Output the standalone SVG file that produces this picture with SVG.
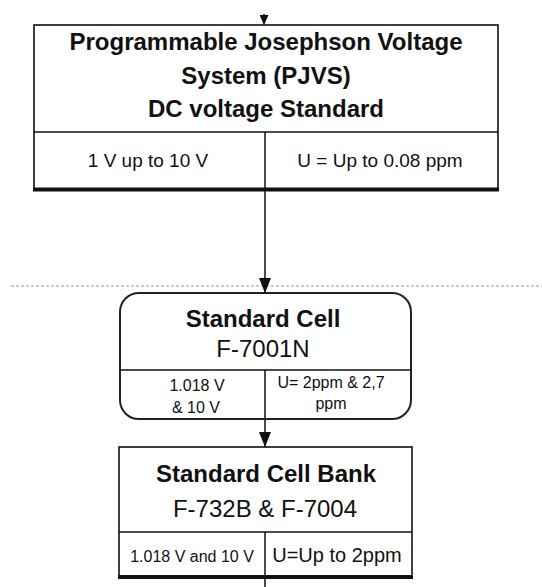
<svg xmlns="http://www.w3.org/2000/svg" width="542" height="587" viewBox="0 0 542 587">
<style>
  .box{fill:#fff;stroke:#111;stroke-width:1.6}
  .rbox{fill:#fff;stroke:#222;stroke-width:2}
  .div{stroke:#111;stroke-width:1.5;fill:none}
  .thick{stroke:#111;stroke-width:4}
  .conn{stroke:#111;stroke-width:1.5;fill:none}
  .sep{stroke:#9a9a9a;stroke-width:1.2;stroke-dasharray:3 2}
  text{font-family:"Liberation Sans",Arial,sans-serif;fill:#111;text-anchor:middle}
  .t{font-size:24px;font-weight:bold}
  .r{font-size:24px}
</style>
<defs>
  <marker id="arr" viewBox="0 0 15 12" refX="15" refY="6" markerWidth="15" markerHeight="12" markerUnits="userSpaceOnUse" orient="auto">
    <path d="M0,0 L15,6 L0,12 z" fill="#111"/>
  </marker>
  <marker id="arrS" viewBox="0 0 10 9" refX="10" refY="4.5" markerWidth="10" markerHeight="9" markerUnits="userSpaceOnUse" orient="auto">
    <path d="M0,0 L10,4.5 L0,9 z" fill="#111"/>
  </marker>
</defs>

<line class="sep" x1="11" y1="286" x2="542" y2="286"/>

<g id="pjvs">
  <rect class="box" x="34" y="25" width="464" height="164"/>
  <line class="thick" x1="33" y1="189.5" x2="499" y2="189.5"/>
  <line class="div" x1="34" y1="132" x2="498" y2="132"/>
  <line class="div" x1="265" y1="132" x2="265" y2="189"/>
  <text class="t" x="266" y="50">Programmable Josephson Voltage</text>
  <text class="t" x="266" y="83.5">System (PJVS)</text>
  <text class="t" x="266" y="117">DC voltage Standard</text>
  <text x="148" y="167" font-size="19">1 V up to 10 V</text>
  <text x="380" y="167" font-size="19">U = Up to 0.08 ppm</text>
</g>

<g id="cell">
  <rect class="rbox" x="120" y="293" width="291" height="126" rx="19" ry="19"/>
  <line class="div" x1="120" y1="370" x2="411" y2="370"/>
  <line class="div" x1="265" y1="370" x2="265" y2="419"/>
  <text class="t" x="263" y="327">Standard Cell</text>
  <text class="r" x="263" y="357">F-7001N</text>
  <text x="197" y="391" font-size="16">1.018 V</text>
  <text x="196" y="413" font-size="16">&amp; 10 V</text>
  <text x="331" y="388" font-size="16">U= 2ppm &amp; 2,7</text>
  <text x="331" y="409" font-size="16">ppm</text>
</g>

<g id="bank">
  <rect class="box" x="119" y="447" width="293" height="129"/>
  <line class="thick" x1="118" y1="577" x2="413" y2="577"/>
  <line class="div" x1="119" y1="532" x2="412" y2="532"/>
  <line class="div" x1="265" y1="532" x2="265" y2="576"/>
  <text class="t" x="266" y="482">Standard Cell Bank</text>
  <text class="r" x="265" y="517">F-732B &amp; F-7004</text>
  <text x="192" y="562" font-size="16">1.018 V and 10 V</text>
  <text x="337" y="562" font-size="20">U=Up to 2ppm</text>
</g>

<g id="connectors">
  <line class="conn" x1="264" y1="14" x2="264" y2="25" marker-end="url(#arrS)"/>
  <line class="conn" x1="265" y1="191" x2="265" y2="293" marker-end="url(#arr)"/>
  <line class="conn" x1="265" y1="420" x2="265" y2="447" marker-end="url(#arr)"/>
  <line class="conn" x1="265" y1="579" x2="265" y2="587"/>
</g>
</svg>
